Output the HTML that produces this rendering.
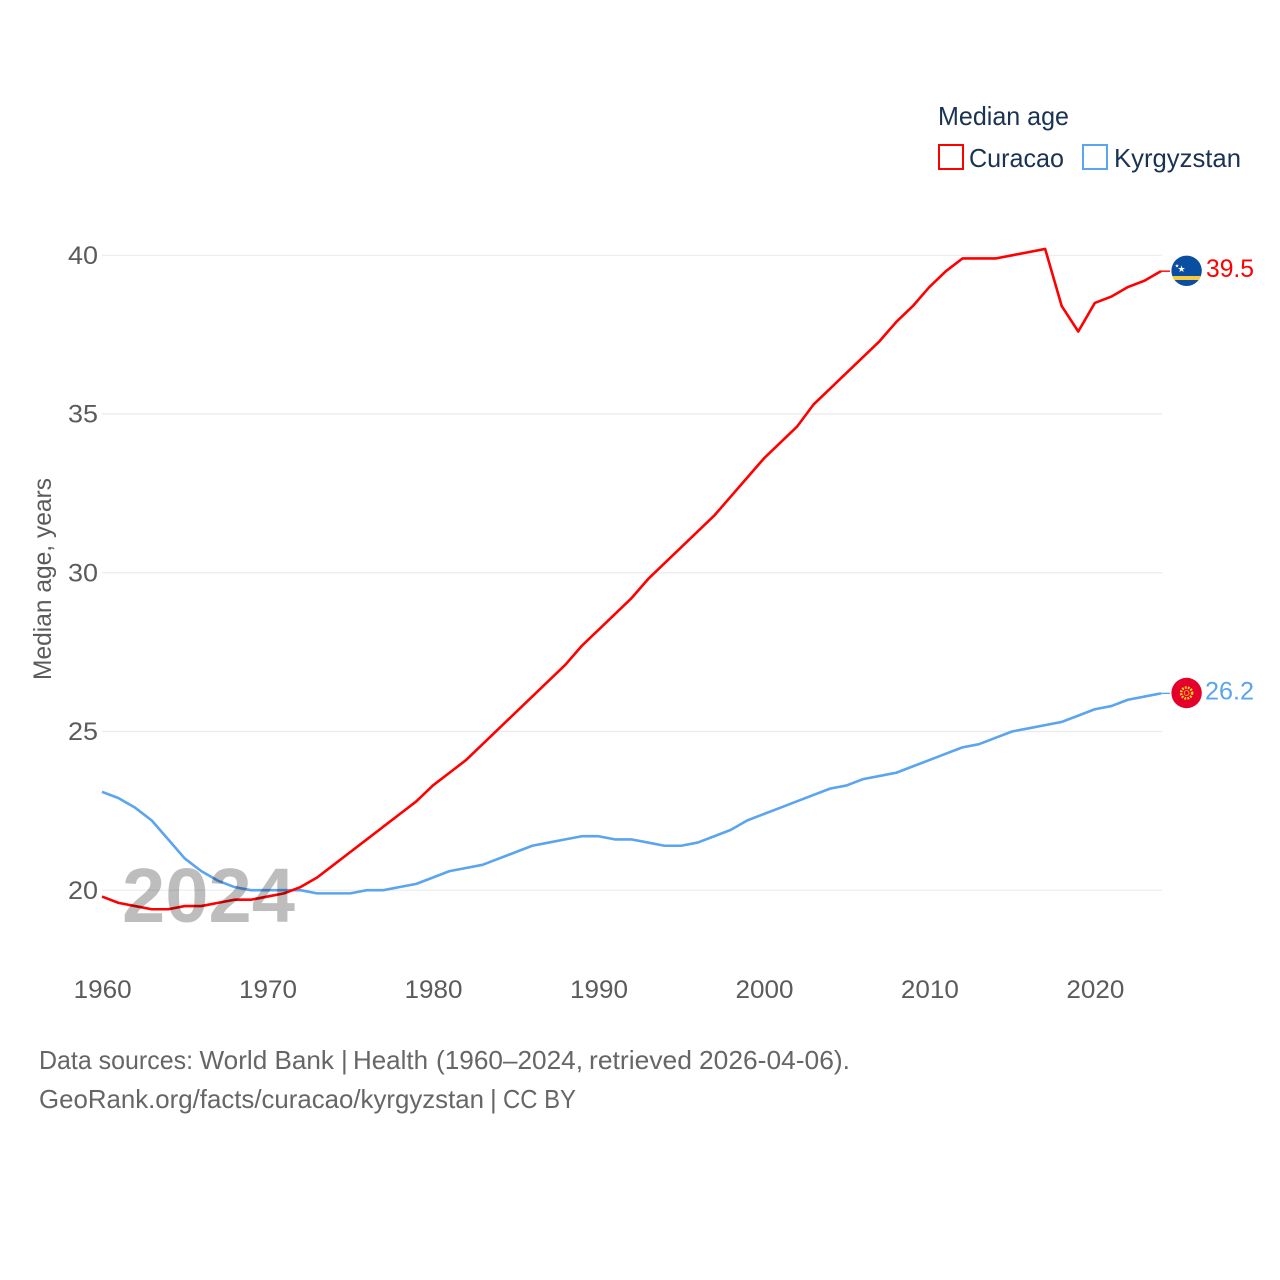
<!DOCTYPE html>
<html>
<head>
<meta charset="utf-8">
<title>Median age: Curacao and Kyrgyzstan</title>
<style>
html,body{margin:0;padding:0;background:#fff;}
svg{display:block;}
text{font-family:"Liberation Sans",sans-serif;}
</style>
</head>
<body>
<svg id="chart" width="1280" height="1280" viewBox="0 0 1280 1280" xmlns="http://www.w3.org/2000/svg">
  <rect x="0" y="0" width="1280" height="1280" fill="#ffffff"/>
  <g id="grid"></g>
  <g id="yticks"></g>
  <g id="xticks"></g>
  <text transform="translate(51,680) rotate(-90)" font-size="25" fill="#5b5b5b" textLength="202" lengthAdjust="spacingAndGlyphs">Median age, years</text>
  <g id="series"></g>
  <text x="122" y="922" font-size="77" font-weight="700" fill="#000000" fill-opacity="0.26" textLength="173" lengthAdjust="spacingAndGlyphs">2024</text>

  <g>
    <text x="938" y="125" font-size="26" fill="#1a3352" textLength="131" lengthAdjust="spacingAndGlyphs">Median age</text>
    <rect x="939" y="145" width="24" height="24" fill="none" stroke="#ff0000" stroke-width="2"/>
    <text x="969" y="167" font-size="26" fill="#1a3352" textLength="95" lengthAdjust="spacingAndGlyphs">Curacao</text>
    <rect x="1083" y="145" width="24" height="24" fill="none" stroke="#5ba4ef" stroke-width="2"/>
    <text x="1114" y="167" font-size="26" fill="#1a3352" textLength="127" lengthAdjust="spacingAndGlyphs">Kyrgyzstan</text>
  </g>

  <defs>
    <clipPath id="flagClipA"><circle cx="1186.6" cy="270.8" r="15.2"/></clipPath>
    <clipPath id="flagClipB"><circle cx="1186.6" cy="693" r="15.2"/></clipPath>
  </defs>
  <g clip-path="url(#flagClipA)">
    <rect x="1171" y="255" width="31" height="32" fill="#0a4ea2"/>
    <rect x="1171" y="276" width="31" height="4" fill="#f9c93c"/>
    <text x="1181.5" y="272" font-size="9" fill="#ffffff" text-anchor="middle">★</text>
    <text x="1177" y="267.5" font-size="5" fill="#ffffff" text-anchor="middle">★</text>
  </g>
  <g clip-path="url(#flagClipB)">
    <rect x="1171" y="677" width="31" height="32" fill="#e4002b"/>
    <circle cx="1186.6" cy="693" r="5.5" fill="none" stroke="#f7d51d" stroke-width="2.6" stroke-dasharray="1.8 1.2"/>
    <circle cx="1186.6" cy="693" r="2.4" fill="#e4002b" stroke="#f7d51d" stroke-width="0.8"/>
  </g>
  <text id="valueA" x="1206" y="277" font-size="25" fill="#ff0000" textLength="48" lengthAdjust="spacingAndGlyphs"></text>
  <text id="valueB" x="1205" y="699.5" font-size="25" fill="#5ba4ef" textLength="49" lengthAdjust="spacingAndGlyphs"></text>

  <g font-size="26" fill="#666666">
    <text x="39" y="1069" textLength="154" lengthAdjust="spacingAndGlyphs">Data sources:</text>
    <text x="199.5" y="1069" textLength="134.5" lengthAdjust="spacingAndGlyphs">World Bank</text>
    <text x="341" y="1069">|</text>
    <text x="353" y="1069" textLength="75" lengthAdjust="spacingAndGlyphs">Health</text>
    <text x="436" y="1069" textLength="147" lengthAdjust="spacingAndGlyphs">(1960–2024,</text>
    <text x="589" y="1069" textLength="103" lengthAdjust="spacingAndGlyphs">retrieved</text>
    <text x="699" y="1069" textLength="151" lengthAdjust="spacingAndGlyphs">2026-04-06).</text>
  </g>
  <g font-size="26" fill="#666666">
    <text x="39" y="1108" textLength="445" lengthAdjust="spacingAndGlyphs">GeoRank.org/facts/curacao/kyrgyzstan</text>
    <text x="490" y="1108">|</text>
    <text x="503" y="1108" textLength="73" lengthAdjust="spacingAndGlyphs">CC BY</text>
  </g>
</svg>
<script>
var startYear = 1960;
var yTicks = [20, 25, 30, 35, 40];
var xTicks = [1960, 1970, 1980, 1990, 2000, 2010, 2020];
var curacao = [19.8,19.6,19.5,19.4,19.4,19.5,19.5,19.6,19.7,19.7,19.8,19.9,20.1,20.4,20.8,21.2,21.6,22.0,22.4,22.8,23.3,23.7,24.1,24.6,25.1,25.6,26.1,26.6,27.1,27.7,28.2,28.7,29.2,29.8,30.3,30.8,31.3,31.8,32.4,33.0,33.6,34.1,34.6,35.3,35.8,36.3,36.8,37.3,37.9,38.4,39.0,39.5,39.9,39.9,39.9,40.0,40.1,40.2,38.4,37.6,38.5,38.7,39.0,39.2,39.5];
var kyrgyzstan = [23.1,22.9,22.6,22.2,21.6,21.0,20.6,20.3,20.1,20.0,20.0,20.0,20.0,19.9,19.9,19.9,20.0,20.0,20.1,20.2,20.4,20.6,20.7,20.8,21.0,21.2,21.4,21.5,21.6,21.7,21.7,21.6,21.6,21.5,21.4,21.4,21.5,21.7,21.9,22.2,22.4,22.6,22.8,23.0,23.2,23.3,23.5,23.6,23.7,23.9,24.1,24.3,24.5,24.6,24.8,25.0,25.1,25.2,25.3,25.5,25.7,25.8,26.0,26.1,26.2];

var NS = 'http://www.w3.org/2000/svg';
function xScale(year) { return 102 + (year - 1960) * (1161 - 102) / 64; }
function yScale(v) { return 890.2 - (v - 20) * (890.2 - 255.3) / 20; }

var gridG = document.getElementById('grid');
var yG = document.getElementById('yticks');
var xG = document.getElementById('xticks');
var seriesG = document.getElementById('series');

yTicks.forEach(function (t) {
  var line = document.createElementNS(NS, 'line');
  
  
  line.setAttribute('x1', 102);
  line.setAttribute('x2', 1162);
  line.setAttribute('y1', yScale(t));
  line.setAttribute('y2', yScale(t));
  line.setAttribute('stroke', '#ebebeb');
  line.setAttribute('stroke-width', '1.2');
  gridG.appendChild(line);

  var label = document.createElementNS(NS, 'text');
  
  
  label.setAttribute('x', 68);
  label.setAttribute('y', yScale(t) + 8.7);
  label.setAttribute('font-size', '25');
  label.setAttribute('fill', '#5b5b5b');
  label.setAttribute('textLength', '30');
  label.setAttribute('lengthAdjust', 'spacingAndGlyphs');
  label.textContent = t;
  yG.appendChild(label);
});

xTicks.forEach(function (t) {
  var label = document.createElementNS(NS, 'text');
  
  
  label.setAttribute('x', xScale(t) + 0.6);
  label.setAttribute('y', 998);
  label.setAttribute('text-anchor', 'middle');
  label.setAttribute('font-size', '25');
  label.setAttribute('fill', '#5b5b5b');
  label.setAttribute('textLength', '58');
  label.setAttribute('lengthAdjust', 'spacingAndGlyphs');
  label.textContent = t;
  xG.appendChild(label);
});

function seriesPoints(values) {
  return values.map(function (v, i) {
    return xScale(startYear + i).toFixed(2) + ',' + yScale(v).toFixed(2);
  }).join(' ');
}

function lastY(values) {
  return yScale(values[values.length - 1]);
}

var blueLine = document.createElementNS(NS, 'polyline');


blueLine.setAttribute('points', seriesPoints(kyrgyzstan));
blueLine.setAttribute('fill', 'none');
blueLine.setAttribute('stroke', '#5ba4ef');
blueLine.setAttribute('stroke-width', '2.6');
blueLine.setAttribute('stroke-linejoin', 'round');
seriesG.appendChild(blueLine);

var redLine = document.createElementNS(NS, 'polyline');


redLine.setAttribute('points', seriesPoints(curacao));
redLine.setAttribute('fill', 'none');
redLine.setAttribute('stroke', '#ff0000');
redLine.setAttribute('stroke-width', '2.6');
redLine.setAttribute('stroke-linejoin', 'round');
seriesG.appendChild(redLine);

var redConnector = document.createElementNS(NS, 'line');


redConnector.setAttribute('x1', xScale(2024));
redConnector.setAttribute('x2', 1170);
redConnector.setAttribute('y1', lastY(curacao));
redConnector.setAttribute('y2', lastY(curacao));
redConnector.setAttribute('stroke', '#ff0000');
redConnector.setAttribute('stroke-width', '1.4');
seriesG.appendChild(redConnector);

var blueConnector = document.createElementNS(NS, 'line');


blueConnector.setAttribute('x1', xScale(2024));
blueConnector.setAttribute('x2', 1170);
blueConnector.setAttribute('y1', lastY(kyrgyzstan));
blueConnector.setAttribute('y2', lastY(kyrgyzstan));
blueConnector.setAttribute('stroke', '#5ba4ef');
blueConnector.setAttribute('stroke-width', '1.4');
seriesG.appendChild(blueConnector);

document.getElementById('valueA').textContent = curacao[curacao.length - 1].toFixed(1);
document.getElementById('valueB').textContent = kyrgyzstan[kyrgyzstan.length - 1].toFixed(1);
</script>
</body>
</html>
